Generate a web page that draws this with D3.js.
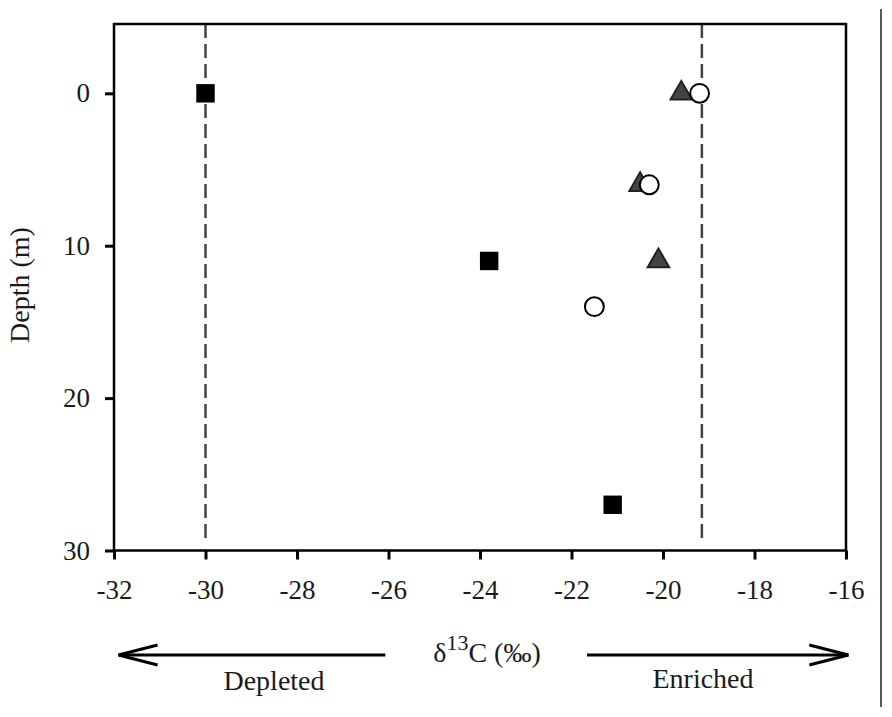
<!DOCTYPE html>
<html>
<head>
<meta charset="utf-8">
<script src="https://cdn.jsdelivr.net/npm/d3@7"></script>
<style>
  html, body { margin: 0; padding: 0; background: #fff; }
  svg text { font-family: "Liberation Serif", "Times New Roman", serif; fill: #1a1a1a; }
</style>
</head>
<body>
<svg id="chart" width="892" height="717"></svg>
<script>
// Data: delta 13C (per mil) against depth (m).
const squareD13C   = [ -30.0, -23.8, -21.1 ];
const squareDepth  = [   0,    11,    27   ];
const triangleD13C = [ -19.6, -20.5, -20.1 ];
const triangleDepth= [   0,     6,    11   ];
const circleD13C   = [ -19.2, -20.3, -21.5 ];
const circleDepth  = [   0,     6,    14   ];
const boundaryD13C = [ -30.0, -19.15 ];
const xTicks       = [ -32, -30, -28, -26, -24, -22, -20, -18, -16 ];
const yTicks       = [ 0, 10, 20, 30 ];

const svg = d3.select( '#chart' );

// Plot area in pixels.
const plotLeft = 114, plotRight = 846, plotTop = 24, plotBottom = 550.5;

const x = d3.scaleLinear( ).domain( [ -32, -16 ] ).range( [ plotLeft, plotRight ] );
const y = d3.scaleLinear( ).domain( [ -4.55, 30 ] ).range( [ plotTop, plotBottom ] );

// Dashed reference lines.
svg.selectAll( 'line.boundary' )
  .data( boundaryD13C )
  .enter( ).append( 'line' )
  .attr( 'class', 'boundary' )
  .attr( 'x1', d => x( d ) ).attr( 'x2', d => x( d ) )
  .attr( 'y1', plotTop ).attr( 'y2', plotBottom - 9 )
  .attr( 'stroke', '#444' )
  .attr( 'stroke-width', 2.5 )
  .attr( 'stroke-dasharray', '14,6' );

// Axes.
const yAxis = svg.append( 'g' )
  .attr( 'transform', `translate( ${plotLeft}, 0 )` )
  .call( d3.axisLeft( y ).tickValues( yTicks ).tickSize( 9 ).tickPadding( 15 ) );
const xAxis = svg.append( 'g' )
  .attr( 'transform', `translate( 0, ${plotBottom} )` )
  .call( d3.axisBottom( x ).tickValues( xTicks ).tickSize( 9 ).tickPadding( 20 ).tickFormat( d3.format( 'd' ) ) );

[ yAxis, xAxis ].forEach( ax => {
  ax.select( '.domain' ).remove( );
  ax.selectAll( '.tick line' ).attr( 'stroke', '#000' ).attr( 'stroke-width', 3 );
  ax.selectAll( '.tick text' )
    .style( 'font-family', '"Liberation Serif", serif' )
    .style( 'font-size', '27px' )
    .attr( 'fill', '#1a1a1a' );
} );
// d3 uses a real minus sign; the figure shows a plain hyphen.
xAxis.selectAll( '.tick text' ).text( d => String( d ).replace( '\u2212', '-' ) );

// Frame.
svg.append( 'rect' )
  .attr( 'x', plotLeft ).attr( 'y', plotTop )
  .attr( 'width', plotRight - plotLeft ).attr( 'height', plotBottom - plotTop )
  .attr( 'fill', 'none' )
  .attr( 'stroke', '#000' )
  .attr( 'stroke-width', 2.5 );

// Markers.
const plotSeries = ( xs, ys, type, size, fill, stroke ) => {
  svg.append( 'g' ).selectAll( 'path' )
    .data( d3.zip( xs, ys ) )
    .enter( ).append( 'path' )
    .attr( 'transform', d => `translate( ${x( d[0] )}, ${y( d[1] )} )` )
    .attr( 'd', d3.symbol( ).type( type ).size( size ) )
    .attr( 'fill', fill )
    .attr( 'stroke', stroke )
    .attr( 'stroke-width', 2 );
};
plotSeries( squareD13C,   squareDepth,   d3.symbolSquare,   340, '#000', 'none' );
plotSeries( triangleD13C, triangleDepth, d3.symbolTriangle, 200, '#444', '#222' );
plotSeries( circleD13C,   circleDepth,   d3.symbolCircle,   280, '#fff', '#000' );

// Axis titles.
svg.append( 'text' )
  .attr( 'transform', 'translate( 29, 285 ) rotate( -90 )' )
  .attr( 'text-anchor', 'middle' )
  .style( 'font-size', '28px' )
  .text( 'Depth (m)' );

const xTitle = svg.append( 'text' )
  .attr( 'x', 487 ).attr( 'y', 662 )
  .attr( 'text-anchor', 'middle' )
  .style( 'font-size', '28px' );
xTitle.append( 'tspan' ).text( '\u03b4' );
xTitle.append( 'tspan' ).attr( 'dy', -12 ).style( 'font-size', '22px' ).text( '13' );
xTitle.append( 'tspan' ).attr( 'dy', 12 ).text( 'C (\u2030)' );

// Direction arrows.
const arrows = [
  { from: -26.07, to: -31.9, label: 'Depleted', lx: 274, ly: 690 },
  { from: -21.66, to: -15.95, label: 'Enriched', lx: 703, ly: 688 }
];
const arrowY = 655;
arrows.forEach( a => {
  const tip = x( a.to ), dir = Math.sign( x( a.from ) - tip );
  svg.append( 'line' )
    .attr( 'x1', x( a.from ) ).attr( 'x2', tip )
    .attr( 'y1', arrowY ).attr( 'y2', arrowY )
    .attr( 'stroke', '#000' ).attr( 'stroke-width', 3 );
  svg.append( 'path' )
    .attr( 'd', `M${tip + dir * 39},${arrowY - 10} L${tip},${arrowY} L${tip + dir * 39},${arrowY + 10}` )
    .attr( 'fill', 'none' ).attr( 'stroke', '#000' ).attr( 'stroke-width', 3 );
  svg.append( 'text' )
    .attr( 'x', a.lx ).attr( 'y', a.ly )
    .attr( 'text-anchor', 'middle' )
    .style( 'font-size', '28px' )
    .text( a.label );
} );

// Panel divider on the right edge.
svg.append( 'line' )
  .attr( 'x1', 881 ).attr( 'x2', 881 )
  .attr( 'y1', 9 ).attr( 'y2', 707 )
  .attr( 'stroke', '#222' ).attr( 'stroke-width', 1.5 );
</script>
</body>
</html>
